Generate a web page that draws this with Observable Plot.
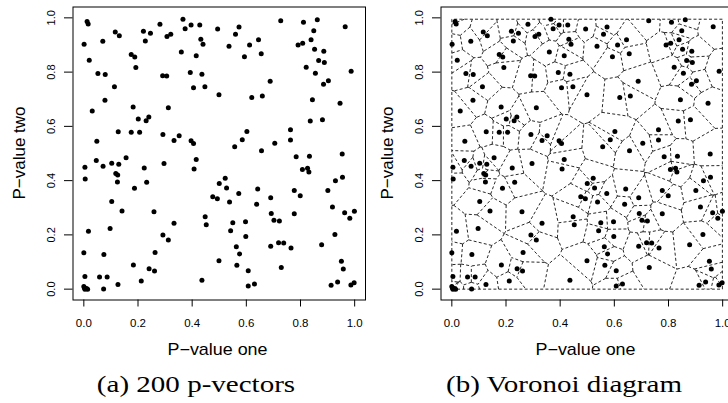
<!DOCTYPE html>
<html>
<head>
<meta charset="utf-8">
<script src="https://cdn.jsdelivr.net/npm/d3@7"></script>
<script src="https://cdn.jsdelivr.net/npm/@observablehq/plot@0.6"></script>
<style>
  html, body { margin: 0; padding: 0; background: #fff; overflow: hidden; }
  #wrap { position: relative; width: 728px; height: 403px; overflow: hidden; background: #fff; }
  .panel { position: absolute; top: 0; width: 370px; height: 340px; }
  #overlay { position: absolute; left: 0; top: 0; pointer-events: none; }
</style>
</head>
<body>
<div id="wrap">
  <div class="panel" id="pa" style="left:0px"></div>
  <div class="panel" id="pb" style="left:368px"></div>
</div>
<script>
// ---- data: 200 p-vectors (P-value one, P-value two) ----
const pOne = [
  // upper left
  0.012,0.016,0.001,0.020,0.052,0.079,0.070,0.116,0.131,0.113,
  0.078,0.031,0.182,0.175,0.188,0.192,0.220,0.227,0.246,0.201,
  0.230,0.240,0.127,0.175,0.206,0.048,0.281,0.307,0.321,0.291,
  0.306,0.312,0.292,0.333,0.352,0.366,0.374,0.396,0.428,0.432,
  0.440,0.360,0.415,0.393,0.436,0.405,0.447,0.494,0.499,0.396,
  0.405,
  // upper right
  0.573,0.560,0.536,0.612,0.645,0.593,0.655,0.727,0.688,0.620,
  0.659,0.811,0.862,0.849,0.965,0.839,0.791,0.808,0.852,0.886,
  0.867,0.888,0.821,0.855,0.987,0.903,0.885,0.844,0.946,0.836,
  0.881,0.763,0.602,0.585,0.557,0.656,0.705,0.763,0.954,
  // lower left
  0.004,0.005,0.046,0.071,0.103,0.129,0.156,0.118,0.125,0.124,
  0.103,0.141,0.223,0.232,0.187,0.296,0.259,0.333,0.292,0.312,
  0.263,0.183,0.241,0.261,0.212,0.126,0.073,0.097,0.017,0.000,
  0.074,0.004,0.058,0.086,0.000,0.004,0.010,0.014,0.002,0.407,
  0.415,0.500,0.476,0.493,0.448,0.452,0.499,0.436,
  // lower right
  0.784,0.833,0.807,0.826,0.831,0.929,0.955,0.522,0.527,0.538,
  0.572,0.642,0.638,0.690,0.777,0.799,0.901,0.918,0.963,0.999,
  0.982,0.692,0.702,0.722,0.777,0.550,0.597,0.542,0.598,0.563,
  0.575,0.690,0.719,0.738,0.765,0.878,0.927,0.565,0.607,0.729,
  0.607,0.630,0.951,0.958,0.913,0.937,0.986,0.998
];
const pTwo = [
  // upper left
  0.987,0.977,0.903,0.844,0.795,0.791,0.914,0.948,0.934,0.746,
  0.696,0.657,0.671,0.865,0.856,0.817,0.951,0.915,0.943,0.627,
  0.621,0.635,0.580,0.578,0.578,0.545,0.976,0.931,0.940,0.787,
  0.786,0.669,0.570,0.548,0.565,0.995,0.960,0.974,0.974,0.921,
  0.903,0.874,0.860,0.799,0.792,0.742,0.746,0.959,0.717,0.547,
  0.537,
  // upper right
  0.966,0.940,0.895,0.900,0.919,0.857,0.868,0.989,0.766,0.706,
  0.712,0.984,0.993,0.952,0.967,0.919,0.900,0.906,0.884,0.877,
  0.843,0.835,0.818,0.796,0.803,0.768,0.755,0.698,0.685,0.620,
  0.624,0.588,0.581,0.551,0.525,0.510,0.538,0.550,0.498,
  // lower left
  0.449,0.406,0.474,0.453,0.464,0.460,0.484,0.426,0.421,0.395,
  0.323,0.288,0.447,0.394,0.372,0.463,0.285,0.243,0.200,0.181,
  0.135,0.089,0.075,0.067,0.030,0.017,0.001,0.224,0.213,0.134,
  0.128,0.047,0.045,0.045,0.010,0.000,0.002,0.000,0.005,0.443,
  0.478,0.389,0.341,0.333,0.267,0.237,0.105,0.033,
  // lower right
  0.488,0.490,0.441,0.446,0.432,0.400,0.412,0.409,0.373,0.321,
  0.353,0.369,0.313,0.337,0.364,0.344,0.364,0.303,0.282,0.287,
  0.261,0.279,0.254,0.251,0.278,0.245,0.248,0.215,0.194,0.156,
  0.130,0.158,0.171,0.170,0.152,0.164,0.201,0.088,0.068,0.080,
  0.012,0.019,0.103,0.074,0.014,0.026,0.015,0.024
];
const xTicks = [0.0, 0.2, 0.4, 0.6, 0.8, 1.0];
const yTicks = [0.0, 0.2, 0.4, 0.6, 0.8, 1.0];
const xTitle = "P\u2212value one";
const yTitle = "P\u2212value two";
const captions = ["(a) 200 p-vectors", "(b) Voronoi diagram"];

// ---- derived table ----
const points = pOne.map((x, i) => ({x, y: pTwo[i]}));

// Voronoi tessellation in data space, bounded by the data range
const [bx0, bx1] = d3.extent(pOne);
const [by0, by1] = d3.extent(pTwo);
const voronoi = d3.Delaunay.from(points, d => d.x, d => d.y).voronoi([bx0, by0, bx1, by1]);
const segs = [];
const rec = (() => {
  let cx, cy, sx, sy;
  return {
    moveTo(x, y) { cx = sx = x; cy = sy = y; },
    lineTo(x, y) { segs.push({x1: cx, y1: cy, x2: x, y2: y}); cx = x; cy = y; },
    closePath() { if (cx !== sx || cy !== sy) segs.push({x1: cx, y1: cy, x2: sx, y2: sy}); cx = sx; cy = sy; },
    rect(x, y, w, h) {
      segs.push({x1: x, y1: y, x2: x + w, y2: y}, {x1: x + w, y1: y, x2: x + w, y2: y + h},
                {x1: x + w, y1: y + h, x2: x, y2: y + h}, {x1: x, y1: y + h, x2: x, y2: y});
    }
  };
})();
voronoi.render(rec);
voronoi.renderBounds(rec);

const fmt = d3.format(".1f");

function panel(withVoronoi) {
  return Plot.plot({
    width: 370, height: 340,
    marginLeft: 72.5, marginRight: 5, marginTop: 6.5, marginBottom: 40.5,
    style: {fontFamily: "'Liberation Sans', Arial, sans-serif", fontSize: "11.5px", background: "white",
            color: "black", overflow: "visible", maxWidth: "none"},
    x: {domain: [-0.04, 1.04], ticks: xTicks, tickFormat: fmt, tickSize: 7, tickPadding: 12, label: null},
    y: {domain: [-0.04, 1.04], ticks: yTicks, tickSize: 8.5, tickFormat: () => "", label: null},
    marks: [
      withVoronoi ? Plot.link(segs, {x1: "x1", y1: "y1", x2: "x2", y2: "y2", stroke: "#111",
                                     strokeWidth: 0.9, strokeDasharray: "3,2.2"}) : null,
      Plot.dot(points, {x: "x", y: "y", r: 2.5, fill: "black", stroke: "none"}),
      Plot.text(yTicks, {y: d => d, frameAnchor: "left", dx: -21.5, rotate: -90, text: d => fmt(d),
                         fontSize: 11, textAnchor: "middle", lineAnchor: "middle"}),
      Plot.frame({stroke: "black", strokeWidth: 1})
    ]
  });
}

document.getElementById("pa").appendChild(panel(false));
document.getElementById("pb").appendChild(panel(true));

// ---- titles and captions (overlay text) ----
const ov = d3.select("#wrap").append("svg").attr("id", "overlay").attr("width", 728).attr("height", 403);
const panelsX = [0, 368];
panelsX.forEach((ox, i) => {
  ov.append("text")
    .attr("transform", `translate(${ox + 217.5},355) scale(1.12,1)`)
    .attr("text-anchor", "middle")
    .attr("font-family", "'Liberation Sans', Arial, sans-serif")
    .attr("font-size", 16).text(xTitle);
  ov.append("text")
    .attr("transform", `translate(${ox + 24.5},153) rotate(-90)`)
    .attr("text-anchor", "middle")
    .attr("font-family", "'Liberation Sans', Arial, sans-serif")
    .attr("font-size", 17).text(yTitle);
  ov.append("text")
    .attr("transform", `translate(${ox + 196},392) scale(1.21,1)`)
    .attr("text-anchor", "middle")
    .attr("font-family", "'Liberation Serif', 'Times New Roman', serif")
    .attr("font-size", 24).text(captions[i]);
});
</script>
</body>
</html>
